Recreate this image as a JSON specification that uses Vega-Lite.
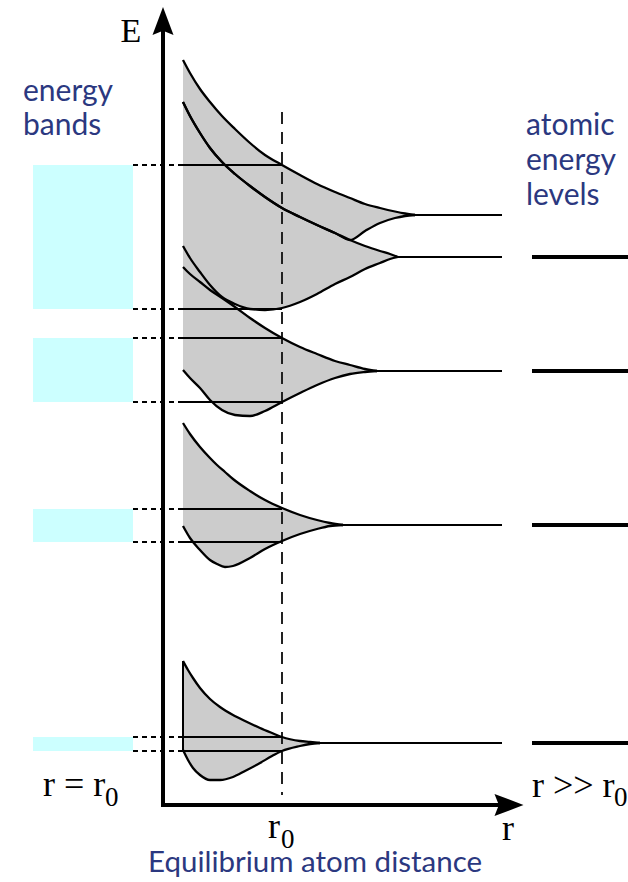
{
  "$schema": "https://vega.github.io/schema/vega-lite/v6.json",
  "width": 628,
  "height": 882,
  "padding": 0,
  "autosize": "none",
  "background": "white",
  "config": {"view": {"stroke": null}},
  "datasets": {
    "boxes": [
      {"x": 33, "x2": 133, "y": 165, "y2": 309},
      {"x": 33, "x2": 133, "y": 338, "y2": 402},
      {"x": 33, "x2": 133, "y": 509, "y2": 542},
      {"x": 33, "x2": 133, "y": 737, "y2": 751}
    ],
    "bands": [
      {"band": "A", "x": 183, "top": 60, "bottom": 102},
      {"band": "A", "x": 190, "top": 73, "bottom": 116},
      {"band": "A", "x": 200, "top": 89, "bottom": 133},
      {"band": "A", "x": 210, "top": 102, "bottom": 148},
      {"band": "A", "x": 222, "top": 116, "bottom": 162},
      {"band": "A", "x": 235, "top": 129, "bottom": 174},
      {"band": "A", "x": 250, "top": 143, "bottom": 186},
      {"band": "A", "x": 265, "top": 155, "bottom": 197},
      {"band": "A", "x": 282, "top": 165, "bottom": 208},
      {"band": "A", "x": 300, "top": 175, "bottom": 217},
      {"band": "A", "x": 317, "top": 184, "bottom": 225},
      {"band": "A", "x": 335, "top": 192, "bottom": 233},
      {"band": "A", "x": 350, "top": 198, "bottom": 240},
      {"band": "A", "x": 365, "top": 204, "bottom": 231},
      {"band": "A", "x": 380, "top": 208, "bottom": 223},
      {"band": "A", "x": 395, "top": 211.5, "bottom": 218},
      {"band": "A", "x": 405, "top": 213.5, "bottom": 216},
      {"band": "A", "x": 415, "top": 215, "bottom": 215},
      {"band": "B", "x": 183, "top": 102, "bottom": 246},
      {"band": "B", "x": 190, "top": 116, "bottom": 258},
      {"band": "B", "x": 200, "top": 133, "bottom": 272},
      {"band": "B", "x": 210, "top": 148, "bottom": 285},
      {"band": "B", "x": 222, "top": 162, "bottom": 297},
      {"band": "B", "x": 235, "top": 174, "bottom": 304},
      {"band": "B", "x": 250, "top": 186, "bottom": 309},
      {"band": "B", "x": 265, "top": 197, "bottom": 310},
      {"band": "B", "x": 282, "top": 208, "bottom": 308},
      {"band": "B", "x": 300, "top": 217, "bottom": 302},
      {"band": "B", "x": 317, "top": 225, "bottom": 294},
      {"band": "B", "x": 335, "top": 233, "bottom": 284},
      {"band": "B", "x": 350, "top": 240, "bottom": 277},
      {"band": "B", "x": 365, "top": 246, "bottom": 269},
      {"band": "B", "x": 380, "top": 251, "bottom": 263},
      {"band": "B", "x": 390, "top": 254, "bottom": 259},
      {"band": "B", "x": 398, "top": 257, "bottom": 257},
      {"band": "C", "x": 183, "top": 267, "bottom": 370},
      {"band": "C", "x": 190, "top": 274, "bottom": 378},
      {"band": "C", "x": 200, "top": 282, "bottom": 388},
      {"band": "C", "x": 210, "top": 290, "bottom": 400},
      {"band": "C", "x": 222, "top": 298, "bottom": 410},
      {"band": "C", "x": 235, "top": 307, "bottom": 415},
      {"band": "C", "x": 250, "top": 318, "bottom": 416},
      {"band": "C", "x": 265, "top": 328, "bottom": 411},
      {"band": "C", "x": 282, "top": 338, "bottom": 402},
      {"band": "C", "x": 300, "top": 347, "bottom": 393},
      {"band": "C", "x": 317, "top": 354, "bottom": 385},
      {"band": "C", "x": 335, "top": 361, "bottom": 378},
      {"band": "C", "x": 350, "top": 365, "bottom": 374},
      {"band": "C", "x": 365, "top": 369, "bottom": 372},
      {"band": "C", "x": 377, "top": 371, "bottom": 371},
      {"band": "D", "x": 183, "top": 423, "bottom": 526},
      {"band": "D", "x": 190, "top": 434, "bottom": 538},
      {"band": "D", "x": 200, "top": 447, "bottom": 550},
      {"band": "D", "x": 210, "top": 458, "bottom": 560},
      {"band": "D", "x": 217, "top": 465, "bottom": 564},
      {"band": "D", "x": 225, "top": 472, "bottom": 567},
      {"band": "D", "x": 233, "top": 479, "bottom": 566},
      {"band": "D", "x": 250, "top": 491, "bottom": 558},
      {"band": "D", "x": 265, "top": 500, "bottom": 549},
      {"band": "D", "x": 282, "top": 508, "bottom": 541},
      {"band": "D", "x": 300, "top": 515, "bottom": 534},
      {"band": "D", "x": 317, "top": 520, "bottom": 529},
      {"band": "D", "x": 330, "top": 523, "bottom": 526},
      {"band": "D", "x": 343, "top": 525, "bottom": 525},
      {"band": "E", "x": 183, "top": 661, "bottom": 750},
      {"band": "E", "x": 188, "top": 670, "bottom": 760},
      {"band": "E", "x": 193, "top": 678, "bottom": 768},
      {"band": "E", "x": 200, "top": 688, "bottom": 775},
      {"band": "E", "x": 210, "top": 699, "bottom": 780},
      {"band": "E", "x": 220, "top": 707, "bottom": 780},
      {"band": "E", "x": 233, "top": 715, "bottom": 777},
      {"band": "E", "x": 245, "top": 721, "bottom": 771},
      {"band": "E", "x": 260, "top": 728, "bottom": 763},
      {"band": "E", "x": 272, "top": 733, "bottom": 756},
      {"band": "E", "x": 282, "top": 737, "bottom": 751},
      {"band": "E", "x": 300, "top": 741, "bottom": 746},
      {"band": "E", "x": 310, "top": 742, "bottom": 744},
      {"band": "E", "x": 320, "top": 743, "bottom": 743}
    ],
    "gap": [
      {"band": "G", "x": 183, "top": 102, "bottom": 267},
      {"band": "G", "x": 190, "top": 116, "bottom": 274},
      {"band": "G", "x": 200, "top": 133, "bottom": 282},
      {"band": "G", "x": 210, "top": 148, "bottom": 290},
      {"band": "G", "x": 222, "top": 162, "bottom": 298}
    ],
    "edges": [
      {"y": 165}, {"y": 309}, {"y": 338}, {"y": 402},
      {"y": 509}, {"y": 542}, {"y": 737}, {"y": 751}
    ],
    "levels": [
      {"x": 415, "x2": 502, "y": 215},
      {"x": 398, "x2": 502, "y": 257},
      {"x": 377, "x2": 502, "y": 371},
      {"x": 343, "x2": 502, "y": 525},
      {"x": 320, "x2": 502, "y": 743}
    ],
    "atomic": [
      {"x": 532, "x2": 628, "y": 257},
      {"x": 532, "x2": 628, "y": 371},
      {"x": 532, "x2": 628, "y": 525},
      {"x": 532, "x2": 628, "y": 743}
    ],
    "vaxis": [{"x": 163, "y": 30, "y2": 807}],
    "haxis": [{"x": 161, "x2": 500, "y": 805}],
    "r0line": [{"x": 282, "y": 112, "y2": 795}],
    "leftedge": [{"x": 183, "y": 661, "y2": 750}],
    "arrowUp": [{"x": 163, "y": 21}],
    "arrowRight": [{"x": 509, "y": 805}],
    "serifMain": [
      {"x": 43, "y": 796, "text": "r = r"},
      {"x": 532, "y": 797, "text": "r >> r"},
      {"x": 268, "y": 838, "text": "r"},
      {"x": 502, "y": 840, "text": "r"}
    ],
    "serifSub": [
      {"x": 105, "y": 806, "text": "0"},
      {"x": 614, "y": 806, "text": "0"},
      {"x": 281, "y": 848, "text": "0"}
    ],
    "eLabel": [{"x": 131, "y": 42, "text": "E"}],
    "blueSide": [
      {"x": 23, "y": 101, "text": "energy"},
      {"x": 23, "y": 135, "text": "bands"},
      {"x": 526, "y": 135, "text": "atomic"},
      {"x": 526, "y": 170, "text": "energy"},
      {"x": 526, "y": 205, "text": "levels"}
    ],
    "blueBottom": [
      {"x": 148, "y": 872, "text": "Equilibrium atom distance"}
    ]
  },
  "layer": [
    {
      "data": {"name": "boxes"},
      "mark": {"type": "rect", "color": "#ccffff"},
      "encoding": {
        "x": {"field": "x", "type": "quantitative", "scale": {"domain": [0, 628], "nice": false, "zero": false}, "axis": null},
        "x2": {"field": "x2"},
        "y": {"field": "y", "type": "quantitative", "scale": {"domain": [0, 882], "nice": false, "zero": false, "reverse": true}, "axis": null},
        "y2": {"field": "y2"}
      }
    },
    {
      "data": {"name": "bands"},
      "mark": {"type": "area", "color": "#cccccc", "interpolate": "monotone", "opacity": 1},
      "encoding": {
        "x": {"field": "x", "type": "quantitative", "scale": {"domain": [0, 628], "nice": false, "zero": false}, "axis": null},
        "y": {"field": "top", "type": "quantitative", "scale": {"domain": [0, 882], "nice": false, "zero": false, "reverse": true}, "axis": null, "stack": null},
        "y2": {"field": "bottom"},
        "detail": {"field": "band"}
      }
    },
    {
      "data": {"name": "gap"},
      "mark": {"type": "area", "color": "#cccccc", "interpolate": "monotone", "opacity": 1},
      "encoding": {
        "x": {"field": "x", "type": "quantitative", "scale": {"domain": [0, 628], "nice": false, "zero": false}, "axis": null},
        "y": {"field": "top", "type": "quantitative", "scale": {"domain": [0, 882], "nice": false, "zero": false, "reverse": true}, "axis": null, "stack": null},
        "y2": {"field": "bottom"},
        "detail": {"field": "band"}
      }
    },
    {
      "data": {"name": "edges"},
      "transform": [{"calculate": "183", "as": "xa"}, {"calculate": "282", "as": "xb"}],
      "mark": {"type": "rule", "color": "black", "strokeWidth": 2},
      "encoding": {
        "x": {"field": "xa", "type": "quantitative", "scale": {"domain": [0, 628], "nice": false, "zero": false}, "axis": null},
        "x2": {"field": "xb"},
        "y": {"field": "y", "type": "quantitative", "scale": {"domain": [0, 882], "nice": false, "zero": false, "reverse": true}, "axis": null}
      }
    },
    {
      "data": {"name": "edges"},
      "transform": [{"calculate": "133", "as": "xa"}, {"calculate": "183", "as": "xb"}],
      "mark": {"type": "rule", "color": "black", "strokeWidth": 2, "strokeDash": [5, 4]},
      "encoding": {
        "x": {"field": "xa", "type": "quantitative", "scale": {"domain": [0, 628], "nice": false, "zero": false}, "axis": null},
        "x2": {"field": "xb"},
        "y": {"field": "y", "type": "quantitative", "scale": {"domain": [0, 882], "nice": false, "zero": false, "reverse": true}, "axis": null}
      }
    },
    {
      "data": {"name": "r0line"},
      "mark": {"type": "rule", "color": "#222222", "strokeWidth": 2, "strokeDash": [12, 8]},
      "encoding": {
        "x": {"field": "x", "type": "quantitative", "scale": {"domain": [0, 628], "nice": false, "zero": false}, "axis": null},
        "y": {"field": "y", "type": "quantitative", "scale": {"domain": [0, 882], "nice": false, "zero": false, "reverse": true}, "axis": null},
        "y2": {"field": "y2"}
      }
    },
    {
      "data": {"name": "bands"},
      "mark": {"type": "line", "color": "black", "strokeWidth": 2.3, "interpolate": "monotone"},
      "encoding": {
        "x": {"field": "x", "type": "quantitative", "scale": {"domain": [0, 628], "nice": false, "zero": false}, "axis": null},
        "y": {"field": "top", "type": "quantitative", "scale": {"domain": [0, 882], "nice": false, "zero": false, "reverse": true}, "axis": null},
        "detail": {"field": "band"}
      }
    },
    {
      "data": {"name": "bands"},
      "mark": {"type": "line", "color": "black", "strokeWidth": 2.3, "interpolate": "monotone"},
      "encoding": {
        "x": {"field": "x", "type": "quantitative", "scale": {"domain": [0, 628], "nice": false, "zero": false}, "axis": null},
        "y": {"field": "bottom", "type": "quantitative", "scale": {"domain": [0, 882], "nice": false, "zero": false, "reverse": true}, "axis": null},
        "detail": {"field": "band"}
      }
    },
    {
      "data": {"name": "leftedge"},
      "mark": {"type": "rule", "color": "black", "strokeWidth": 2},
      "encoding": {
        "x": {"field": "x", "type": "quantitative", "scale": {"domain": [0, 628], "nice": false, "zero": false}, "axis": null},
        "y": {"field": "y", "type": "quantitative", "scale": {"domain": [0, 882], "nice": false, "zero": false, "reverse": true}, "axis": null},
        "y2": {"field": "y2"}
      }
    },
    {
      "data": {"name": "levels"},
      "mark": {"type": "rule", "color": "black", "strokeWidth": 2},
      "encoding": {
        "x": {"field": "x", "type": "quantitative", "scale": {"domain": [0, 628], "nice": false, "zero": false}, "axis": null},
        "x2": {"field": "x2"},
        "y": {"field": "y", "type": "quantitative", "scale": {"domain": [0, 882], "nice": false, "zero": false, "reverse": true}, "axis": null}
      }
    },
    {
      "data": {"name": "atomic"},
      "mark": {"type": "rule", "color": "black", "strokeWidth": 4},
      "encoding": {
        "x": {"field": "x", "type": "quantitative", "scale": {"domain": [0, 628], "nice": false, "zero": false}, "axis": null},
        "x2": {"field": "x2"},
        "y": {"field": "y", "type": "quantitative", "scale": {"domain": [0, 882], "nice": false, "zero": false, "reverse": true}, "axis": null}
      }
    },
    {
      "data": {"name": "vaxis"},
      "mark": {"type": "rule", "color": "black", "strokeWidth": 4},
      "encoding": {
        "x": {"field": "x", "type": "quantitative", "scale": {"domain": [0, 628], "nice": false, "zero": false}, "axis": null},
        "y": {"field": "y", "type": "quantitative", "scale": {"domain": [0, 882], "nice": false, "zero": false, "reverse": true}, "axis": null},
        "y2": {"field": "y2"}
      }
    },
    {
      "data": {"name": "haxis"},
      "mark": {"type": "rule", "color": "black", "strokeWidth": 4},
      "encoding": {
        "x": {"field": "x", "type": "quantitative", "scale": {"domain": [0, 628], "nice": false, "zero": false}, "axis": null},
        "x2": {"field": "x2"},
        "y": {"field": "y", "type": "quantitative", "scale": {"domain": [0, 882], "nice": false, "zero": false, "reverse": true}, "axis": null}
      }
    },
    {
      "data": {"name": "arrowUp"},
      "mark": {"type": "point", "shape": "M0,-1L0.75,1L0,0.7L-0.75,1Z", "filled": true, "color": "black", "size": 784, "opacity": 1, "strokeWidth": 0},
      "encoding": {
        "x": {"field": "x", "type": "quantitative", "scale": {"domain": [0, 628], "nice": false, "zero": false}, "axis": null},
        "y": {"field": "y", "type": "quantitative", "scale": {"domain": [0, 882], "nice": false, "zero": false, "reverse": true}, "axis": null}
      }
    },
    {
      "data": {"name": "arrowRight"},
      "mark": {"type": "point", "shape": "M1,0L-1,-0.76L-0.7,0L-1,0.76Z", "filled": true, "color": "black", "size": 841, "opacity": 1, "strokeWidth": 0},
      "encoding": {
        "x": {"field": "x", "type": "quantitative", "scale": {"domain": [0, 628], "nice": false, "zero": false}, "axis": null},
        "y": {"field": "y", "type": "quantitative", "scale": {"domain": [0, 882], "nice": false, "zero": false, "reverse": true}, "axis": null}
      }
    },
    {
      "data": {"name": "serifMain"},
      "mark": {"type": "text", "font": "Liberation Serif", "fontSize": 36, "align": "left", "baseline": "alphabetic", "color": "black"},
      "encoding": {
        "x": {"field": "x", "type": "quantitative", "scale": {"domain": [0, 628], "nice": false, "zero": false}, "axis": null},
        "y": {"field": "y", "type": "quantitative", "scale": {"domain": [0, 882], "nice": false, "zero": false, "reverse": true}, "axis": null},
        "text": {"field": "text"}
      }
    },
    {
      "data": {"name": "serifSub"},
      "mark": {"type": "text", "font": "Liberation Serif", "fontSize": 27, "align": "left", "baseline": "alphabetic", "color": "black"},
      "encoding": {
        "x": {"field": "x", "type": "quantitative", "scale": {"domain": [0, 628], "nice": false, "zero": false}, "axis": null},
        "y": {"field": "y", "type": "quantitative", "scale": {"domain": [0, 882], "nice": false, "zero": false, "reverse": true}, "axis": null},
        "text": {"field": "text"}
      }
    },
    {
      "data": {"name": "eLabel"},
      "mark": {"type": "text", "font": "Liberation Serif", "fontSize": 34, "align": "center", "baseline": "alphabetic", "color": "black"},
      "encoding": {
        "x": {"field": "x", "type": "quantitative", "scale": {"domain": [0, 628], "nice": false, "zero": false}, "axis": null},
        "y": {"field": "y", "type": "quantitative", "scale": {"domain": [0, 882], "nice": false, "zero": false, "reverse": true}, "axis": null},
        "text": {"field": "text"}
      }
    },
    {
      "data": {"name": "blueSide"},
      "mark": {"type": "text", "font": "Lato", "fontSize": 30, "align": "left", "baseline": "alphabetic", "color": "#2b3880"},
      "encoding": {
        "x": {"field": "x", "type": "quantitative", "scale": {"domain": [0, 628], "nice": false, "zero": false}, "axis": null},
        "y": {"field": "y", "type": "quantitative", "scale": {"domain": [0, 882], "nice": false, "zero": false, "reverse": true}, "axis": null},
        "text": {"field": "text"}
      }
    },
    {
      "data": {"name": "blueBottom"},
      "mark": {"type": "text", "font": "Lato", "fontSize": 29.5, "align": "left", "baseline": "alphabetic", "color": "#2b3880"},
      "encoding": {
        "x": {"field": "x", "type": "quantitative", "scale": {"domain": [0, 628], "nice": false, "zero": false}, "axis": null},
        "y": {"field": "y", "type": "quantitative", "scale": {"domain": [0, 882], "nice": false, "zero": false, "reverse": true}, "axis": null},
        "text": {"field": "text"}
      }
    }
  ]
}
